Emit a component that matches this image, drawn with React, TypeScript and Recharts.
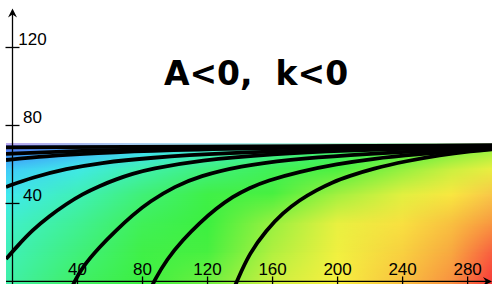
import { ComposedChart, XAxis, YAxis, Line, ReferenceArea, ReferenceLine, ReferenceDot } from "recharts"

const X_DOMAIN: [number, number] = [-4, 295]
const Y_DOMAIN: [number, number] = [-1.3, 140]

const X_TICKS = [40, 80, 120, 160, 200, 240, 280]
const Y_TICKS = [40, 80, 120]

const TITLE = "A<0,\u00a0\u00a0k<0"

// colour field (x stops shared by every row)
const HEAT_X = [-4, 40, 80, 120, 160, 200, 240, 270, 295]
const HEAT_ROW_Y = [-1.3, 15, 30, 45, 58, 66, 70]
const HEAT_ROW_0 = ["#40f0a8", "#40f064", "#3cf040", "#70f040", "#d0f040", "#f8f040", "#f8c040", "#f89040", "#f83838"]
const HEAT_ROW_15 = ["#40f0b8", "#40f07c", "#40f048", "#48f040", "#b0f040", "#f0f040", "#f8d040", "#f8a840", "#f86040"]
const HEAT_ROW_30 = ["#40f0cc", "#40f094", "#40f058", "#3cf040", "#98f040", "#e8f040", "#f8e040", "#f8c040", "#f89840"]
const HEAT_ROW_45 = ["#40e8f0", "#40f0b8", "#40f078", "#40f048", "#48f040", "#a0f040", "#e0f040", "#f8e840", "#f8c848"]
const HEAT_ROW_58 = ["#40c8f8", "#40e8e8", "#40f0b0", "#40f080", "#40f058", "#48f040", "#90f040", "#c8f040", "#e8f040"]
const HEAT_ROW_66 = ["#4088f8", "#40b8f8", "#40e0f0", "#40f0c0", "#40f090", "#40f068", "#50f040", "#80f040", "#a8f040"]
const HEAT_ROW_70 = ["#7070f0", "#6090f0", "#50b8f0", "#50d8f0", "#50f0d0", "#50f0a0", "#58f078", "#70f060", "#90f050"]
const HEAT_TOP = ["#b8a8f0", "#a8b8f0", "#a8d0f0", "#a8e8f0", "#a8f0e0", "#b0f0d0", "#b0f0c0", "#b8f0b8", "#c0f0b0"]
const HEAT_TOP_Y: [number, number] = [70, 71]

const HEAT_ROWS = [HEAT_ROW_0, HEAT_ROW_15, HEAT_ROW_30, HEAT_ROW_45, HEAT_ROW_58, HEAT_ROW_66, HEAT_ROW_70]

// level curves, [x, y]
const CURVE_A: [number, number][] = [[136.5, -3], [138, 0], [145.8, 14.6], [156.3, 26.4], [166.2, 35.1], [176.6, 41.8], [187.1, 46.9], [197, 51], [207, 54], [221.5, 57.8], [242.5, 61.8], [262.8, 64.9], [283, 66.9], [295, 67.8]]
const CURVE_B: [number, number][] = [[85.5, -3], [87, 0], [95, 11.5], [105, 21.5], [115, 30], [125.5, 37.5], [135.4, 43.5], [145.8, 48], [156.3, 51.6], [176.6, 56.4], [200, 60.3], [220, 62.8], [250, 65.3], [275, 66.8], [295, 67.9]]
const CURVE_C: [number, number][] = [[36.5, -3], [38.2, 0], [43, 7.4], [53.5, 17.7], [64, 26.4], [73.8, 34], [84.3, 41], [100, 48.8], [115, 54], [140, 59.2], [170, 62.5], [207, 64.9], [250, 66.8], [295, 68.2]]
const CURVE_D: [number, number][] = [[-4, 11.5], [2.5, 17.7], [12.3, 26.4], [22.8, 33.6], [33.2, 39.8], [43, 44.8], [53.5, 49], [64, 52.5], [73.8, 55.2], [84.3, 57.6], [115, 62.2], [160, 65.4], [207, 67.2], [250, 68.3], [295, 69]]
const CURVE_E: [number, number][] = [[-4, 48.5], [12.3, 53.4], [33.2, 57.8], [53.5, 60.8], [84.3, 63.5], [130, 65.9], [200, 67.8], [295, 69.1]]
const CURVE_F: [number, number][] = [[-4, 62.3], [20, 64.2], [50, 65.8], [96, 67.4], [160, 68.6], [295, 69.5]]
const CURVE_G: [number, number][] = [[-4, 65.4], [40, 67], [100, 68.3], [200, 69.2], [295, 69.8]]
const CURVE_H: [number, number][] = [[-4, 68.8], [295, 69.8]]

const CURVES = [CURVE_A, CURVE_B, CURVE_C, CURVE_D, CURVE_E, CURVE_F, CURVE_G, CURVE_H]

const LABEL_FONT = "'Liberation Sans', Arial, sans-serif"

const toPoints = (curve: [number, number][]) => curve.map(([x, y]) => ({ x, y }))

const stopOffset = (x: number) => (x - X_DOMAIN[0]) / (X_DOMAIN[1] - X_DOMAIN[0])

const RowGradient = ({ id, colors }: { id: string; colors: string[] }) => (
    <linearGradient id={id} x1="0" y1="0" x2="1" y2="0">
        {colors.map((c, i) => (
            <stop key={i} offset={stopOffset(HEAT_X[i])} stopColor={c} />
        ))}
    </linearGradient>
)

// lower row painted solid, upper row faded in from the bottom so the rows blend
const bandShape = (lo: number, hi: number) => (p: any) => (
    <g>
        <rect x={p.x} y={p.y - 0.5} width={p.width} height={p.height + 1} fill={`url(#heat-${lo})`} />
        <rect x={p.x} y={p.y - 0.5} width={p.width} height={p.height + 1} fill={`url(#heat-${hi})`} mask="url(#heat-fade)" />
    </g>
)

const YAxisShape = (p: any) => {
    const x = p.x1
    const top = Math.min(p.y1, p.y2)
    const bottom = Math.max(p.y1, p.y2)
    return (
        <g>
            <line x1={x} y1={top + 4} x2={x} y2={bottom} stroke="#000" strokeWidth={1.3} />
            <path d={`M${x},${top} L${x - 4.5},${top + 9} L${x},${top + 6} L${x + 4.5},${top + 9} Z`} fill="#000" />
        </g>
    )
}

const XAxisShape = (p: any) => {
    const y = p.y1
    const left = Math.min(p.x1, p.x2)
    const right = Math.max(p.x1, p.x2)
    return (
        <g>
            <line x1={left} y1={y} x2={right - 4} y2={y} stroke="#000" strokeWidth={1.3} />
            <path d={`M${right},${y} L${right - 9},${y - 4.5} L${right - 6},${y} L${right - 9},${y + 4.5} Z`} fill="#000" />
        </g>
    )
}

const yTickShape = (value: number) => (p: any) => (
    <g>
        <line x1={p.cx - 7} y1={p.cy} x2={p.cx + 7} y2={p.cy} stroke="#000" strokeWidth={1.3} />
        <text x={p.cx + 20} y={p.cy - 2.7} textAnchor="middle" fontFamily={LABEL_FONT} fontSize={17} fill="#000">
            {value}
        </text>
    </g>
)

const xTickShape = (value: number) => (p: any) => (
    <g>
        <line x1={p.cx} y1={p.cy - 5} x2={p.cx} y2={p.cy + 5} stroke="#000" strokeWidth={1.3} />
        <text x={p.cx} y={p.cy - 6.8} textAnchor="middle" fontFamily={LABEL_FONT} fontSize={17} fill="#000">
            {value}
        </text>
    </g>
)

export default function App() {
    return (
        <div style={{ position: "absolute", left: 0, top: 0, width: 492, height: 284, background: "#fff" }}>
            <ComposedChart width={492} height={284} margin={{ top: 8.5, right: 0, bottom: 0, left: 6 }}>
                <defs>
                    {HEAT_ROWS.map((colors, i) => (
                        <RowGradient key={i} id={`heat-${i}`} colors={colors} />
                    ))}
                    <RowGradient id="heat-top" colors={HEAT_TOP} />
                    <linearGradient id="heat-vfade" x1="0" y1="0" x2="0" y2="1">
                        <stop offset="0" stopColor="#fff" />
                        <stop offset="1" stopColor="#000" />
                    </linearGradient>
                    <mask id="heat-fade" maskContentUnits="objectBoundingBox">
                        <rect x="0" y="0" width="1" height="1" fill="url(#heat-vfade)" />
                    </mask>
                </defs>
                <XAxis dataKey="x" type="number" domain={X_DOMAIN} allowDataOverflow hide />
                <YAxis type="number" domain={Y_DOMAIN} allowDataOverflow hide />

                {HEAT_ROW_Y.slice(0, -1).map((y, i) => (
                    <ReferenceArea
                        key={`band-${i}`}
                        x1={X_DOMAIN[0]}
                        x2={X_DOMAIN[1]}
                        y1={y}
                        y2={HEAT_ROW_Y[i + 1]}
                        ifOverflow="hidden"
                        shape={bandShape(i, i + 1)}
                    />
                ))}
                <ReferenceArea
                    x1={X_DOMAIN[0]}
                    x2={X_DOMAIN[1]}
                    y1={HEAT_TOP_Y[0]}
                    y2={HEAT_TOP_Y[1]}
                    ifOverflow="hidden"
                    shape={(p: any) => <rect x={p.x} y={p.y} width={p.width} height={p.height} fill="url(#heat-top)" />}
                />

                {CURVES.map((curve, i) => (
                    <Line
                        key={`curve-${i}`}
                        data={toPoints(curve)}
                        dataKey="y"
                        type="basis"
                        stroke="#000"
                        strokeWidth={3.8}
                        dot={false}
                        activeDot={false}
                        isAnimationActive={false}
                    />
                ))}

                <ReferenceLine x={0} shape={YAxisShape} />
                <ReferenceLine y={0} shape={XAxisShape} />
                {Y_TICKS.map((v) => (
                    <ReferenceDot key={`yt-${v}`} x={0} y={v} shape={yTickShape(v)} />
                ))}
                {X_TICKS.map((v) => (
                    <ReferenceDot key={`xt-${v}`} x={v} y={0} shape={xTickShape(v)} />
                ))}
            </ComposedChart>
            <svg width={492} height={284} style={{ position: "absolute", left: 0, top: 0, pointerEvents: "none" }}>
                <text x={256} y={85} textAnchor="middle" fontFamily="'DejaVu Sans', Verdana, sans-serif" fontWeight="bold" fontSize={33} fill="#000">
                    {TITLE}
                </text>
            </svg>
        </div>
    )
}
